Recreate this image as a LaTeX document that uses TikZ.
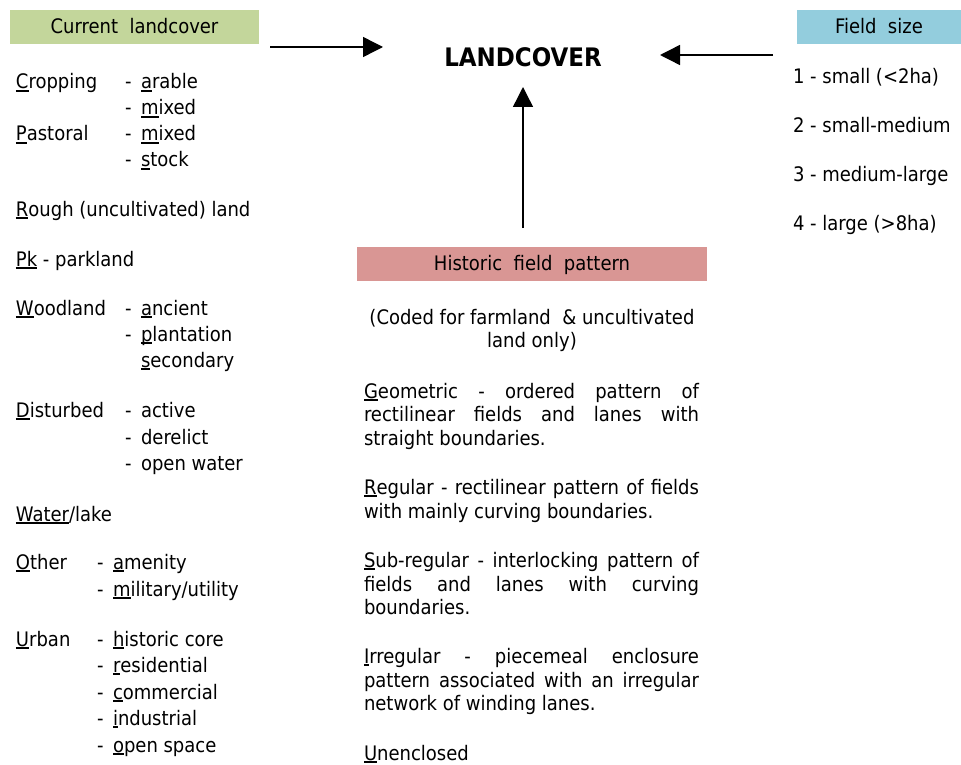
\documentclass[tikz,border=0pt]{standalone}
\usepackage{fontspec}
\setmainfont{DejaVu Sans Condensed}[BoldFont={DejaVu Sans Condensed Bold}]
\usetikzlibrary{arrows.meta}
\definecolor{hgreen}{HTML}{C3D69B}
\definecolor{hred}{HTML}{D99694}
\definecolor{hblue}{HTML}{93CDDD}
\newcommand\fu[1]{\leavevmode\setbox0\hbox{#1}\rlap{\rule[-2.8pt]{\wd0}{1.6pt}}\box0{}}
\newcommand\dl{\makebox[16pt][l]{-}}
\newcommand\jl[1]{\makebox[335pt][s]{#1}}
\begin{document}
\begin{tikzpicture}[x=1pt,y=-1pt,
  every node/.style={inner sep=0pt,outer sep=0pt,font=\fontsize{20}{24}\selectfont},
  txt/.style={anchor=base west},
  ctxt/.style={anchor=base},
  hdr/.style={minimum height=34pt,text height=14pt,text depth=0pt,font=\fontsize{20}{24}\selectfont},
  arr/.style={line width=1.4pt,-{Triangle[length=20pt,width=20pt]}}]
\useasboundingbox (0,0) rectangle (961,765);
% headers
\node[hdr,fill=hgreen,minimum width=249pt] (cur) at (134.5,27) {Current\ \ landcover};
\node[hdr,fill=hblue,minimum width=164pt] (fs) at (879,27) {Field\ \ size};
\node[hdr,fill=hred,minimum width=350pt] (hfp) at (532,263.5) {Historic\ \ field\ \ pattern};
\node[anchor=base,font=\fontsize{25.5}{30}\selectfont\bfseries] (lc) at (523,67) {LANDCOVER};
% arrows
\coordinate (a1s) at (270,47); \coordinate (a1e) at (383,47);
\coordinate (a2s) at (773,55); \coordinate (a2e) at (660,55);
\coordinate (a3s) at (523,228); \coordinate (a3e) at (523,87);
\draw[arr] (a1s) -- (a1e);
\draw[arr] (a2s) -- (a2e);
\draw[arr] (a3s) -- (a3e);
% left column
\node[txt] (l1) at (16,89) {\fu{C}ropping};
\node[txt] (l1a) at (125,89) {\dl\fu{a}rable};
\node[txt] (l1b) at (125,115) {\dl\fu{m}ixed};
\node[txt] (l2) at (16,141) {\fu{P}astoral};
\node[txt] (l2a) at (125,141) {\dl\fu{m}ixed};
\node[txt] (l2b) at (125,167) {\dl\fu{s}tock};
\node[txt] (l3) at (16,216) {\fu{R}ough (uncultivated) land};
\node[txt] (l4) at (16,266) {\fu{Pk} - parkland};
\node[txt] (l5) at (16,315) {\fu{W}oodland};
\node[txt] (l5a) at (125,315) {\dl\fu{a}ncient};
\node[txt] (l5b) at (125,341) {\dl\fu{p}lantation};
\node[txt] (l5c) at (141,367) {\fu{s}econdary};
\node[txt] (l6) at (16,417) {\fu{D}isturbed};
\node[txt] (l6a) at (125,417) {\dl active};
\node[txt] (l6b) at (125,444) {\dl derelict};
\node[txt] (l6c) at (125,470) {\dl open water};
\node[txt] (l7) at (16,521) {\fu{Water}/lake};
\node[txt] (l8) at (16,569) {\fu{O}ther};
\node[txt] (l8a) at (97,569) {\dl\fu{a}menity};
\node[txt] (l8b) at (97,596) {\dl\fu{m}ilitary/utility};
\node[txt] (l9) at (16,646) {\fu{U}rban};
\node[txt] (l9a) at (97,646) {\dl\fu{h}istoric core};
\node[txt] (l9b) at (97,672) {\dl\fu{r}esidential};
\node[txt] (l9c) at (97,699) {\dl\fu{c}ommercial};
\node[txt] (l9d) at (97,725) {\dl\fu{i}ndustrial};
\node[txt] (l9e) at (97,752) {\dl\fu{o}pen space};
% right column
\node[txt] (r1) at (793,84) {1 - small (<2ha)};
\node[txt] (r2) at (793,132) {2 - small-medium};
\node[txt] (r3) at (793,181) {3 - medium-large};
\node[txt] (r4) at (793,230) {4 - large (>8ha)};
% middle
\node[ctxt] (m0) at (532,324) {(Coded for farmland\ \ \& uncultivated};
\node[ctxt] (m0b) at (532,347) {land only)};
\node[txt] (g1) at (364,398) {\jl{\fu{G}eometric - ordered pattern of}};
\node[txt] (g2) at (364,421) {\jl{rectilinear fields and lanes with}};
\node[txt] (g3) at (364,445) {straight boundaries.};
\node[txt] (rg1) at (364,494) {\jl{\fu{R}egular - rectilinear pattern of fields}};
\node[txt] (rg2) at (364,518) {with mainly curving boundaries.};
\node[txt] (s1) at (364,567) {\jl{\fu{S}ub-regular - interlocking pattern of}};
\node[txt] (s2) at (364,591) {\jl{fields and lanes with curving}};
\node[txt] (s3) at (364,614) {boundaries.};
\node[txt] (i1) at (364,663) {\jl{\fu{I}rregular - piecemeal enclosure}};
\node[txt] (i2) at (364,687) {\jl{pattern associated with an irregular}};
\node[txt] (i3) at (364,710) {network of winding lanes.};
\node[txt] (u1) at (364,760) {\fu{U}nenclosed};
\end{tikzpicture}
\end{document}
